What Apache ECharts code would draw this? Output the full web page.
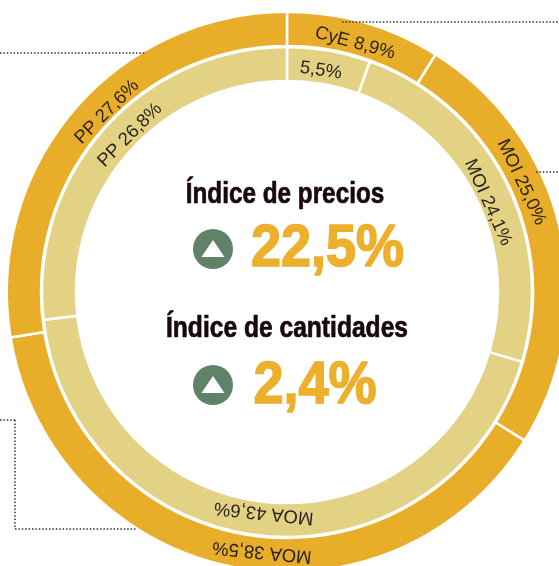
<!DOCTYPE html>
<html><head><meta charset="utf-8">
<style>html,body{margin:0;padding:0;background:#fff}#c{width:559px;height:566px}</style>
<script src="https://cdn.jsdelivr.net/npm/echarts@6/dist/echarts.min.js"></script>
</head><body><div id="c"></div>
<script>
const outerCategories = ['CyE', 'MOI', 'MOA', 'PP'];
const outerValues = [8.9, 25.0, 38.5, 27.6];
const innerCategories = ['', 'MOI', 'MOA', 'PP'];
const innerValues = [5.5, 24.1, 43.6, 26.8];
const headlineLabels = ['Índice de precios', 'Índice de cantidades'];
const headlineValues = ['22,5%', '2,4%'];

// layout only: where each label sits along its ring (polar, clockwise from top)
const CX = 287, CY = 292;
const outerLabelPolar = [[15.3, 258], [64.9, 259], [185.5, 261], [315, 254.6]];
const innerLabelPolar = [[8.7, 224], [66, 220], [186, 222], [315, 222]];
const GOLD = '#E9AE29', SAND = '#E3D283', GREEN = '#5F8268', INK = '#170812', TXT = '#2a2420';
const fmt = p => (p.name ? p.name + ' ' : '') + p.value.toFixed(1).replace('.', ',') + '%';
const place = polar => p => {
  const [t, r] = polar[p.dataIndex], a = t * Math.PI / 180;
  return { x: CX + r * Math.sin(a), y: CY - r * Math.cos(a), rotate: -t, align: 'center', verticalAlign: 'middle' };
};
const ring = (name, radius, color, cats, vals, polar) => ({
  type: 'pie', name, center: [CX, CY], radius, startAngle: 90, clockwise: true, silent: true,
  avoidLabelOverlap: false, animation: false, z: 3,
  itemStyle: { color, borderColor: '#fff', borderWidth: 2.5 },
  label: { show: true, position: 'inside', formatter: fmt, fontFamily: 'Liberation Sans', fontSize: 18.5, color: TXT },
  labelLine: { show: false },
  labelLayout: place(polar),
  data: vals.map((v, i) => ({ name: cats[i], value: v }))
});
const dotted = (x1, y1, x2, y2) => ({
  type: 'line', shape: { x1, y1, x2, y2 }, z: 5, silent: true,
  style: { stroke: '#333', lineWidth: 1.5, lineDash: [1.5, 1.9] }
});
const head = (text, cx, y, size, fill, sx, sw) => ({
  type: 'text', z: 5, silent: true, x: cx, y, scaleX: sx,
  style: { text, x: 0, y: 0, fontFamily: 'Liberation Sans', fontWeight: 'bold', fontSize: size, fill, stroke: fill, lineWidth: sw, align: 'center', verticalAlign: 'middle' }
});
const badge = (cx, cy) => [
  { type: 'circle', z: 5, silent: true, shape: { cx, cy, r: 20 }, style: { fill: GREEN } },
  { type: 'polygon', z: 6, silent: true, shape: { points: [[cx, cy - 9], [cx + 11.5, cy + 8], [cx - 11.5, cy + 8]] }, style: { fill: '#fff' } }
];
const chart = echarts.init(document.getElementById('c'), null, { renderer: 'canvas' });
chart.setOption({
  backgroundColor: '#fff',
  animation: false,
  series: [
    ring('Exterior', [246, 280.2], GOLD, outerCategories, outerValues, outerLabelPolar),
    ring('Interior', [211, 245], SAND, innerCategories, innerValues, innerLabelPolar)
  ],
  graphic: [
    dotted(0, 53, 146, 53), dotted(342, 22, 559, 22), dotted(536, 172, 559, 172),
    dotted(0, 420, 15, 420), dotted(15, 420, 15, 529), dotted(15, 529, 137, 529),
    { type: 'text', z: 5, silent: true, x: -7, y: 487, style: { text: ')', fontFamily: 'Liberation Sans', fontWeight: 'bold', fontSize: 22, fill: INK, verticalAlign: 'middle' } },
    head(headlineLabels[0], 285, 194.5, 30, INK, 0.81, 0.7),
    head(headlineValues[0], 327.5, 249, 60, '#ECB02C', 0.9, 1.6),
    head(headlineLabels[1], 287, 329, 30, INK, 0.82, 0.7),
    head(headlineValues[1], 315, 386.5, 60, '#ECB02C', 0.9, 1.6),
    ...badge(213, 249), ...badge(213, 385)
  ]
});
</script></body></html>
